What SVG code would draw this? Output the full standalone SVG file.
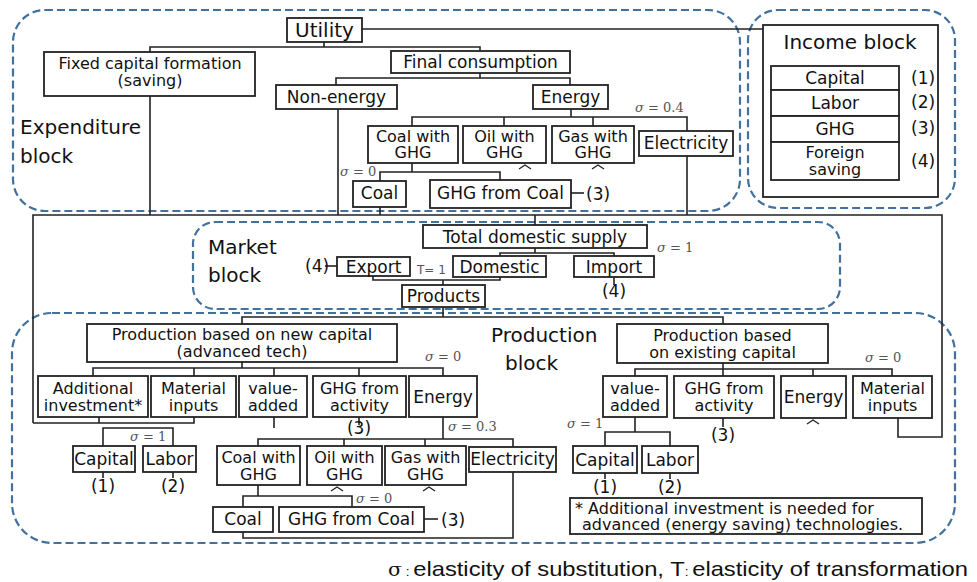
<svg xmlns="http://www.w3.org/2000/svg" width="977" height="582" viewBox="0 0 977 582">
<defs>
<style>
.box{fill:#fff;stroke:#222;stroke-width:1.8}
.t{font-family:"DejaVu Sans",sans-serif;font-size:17px;fill:#111;text-anchor:middle}
.t2{font-family:"DejaVu Sans",sans-serif;font-size:16px;fill:#111;text-anchor:middle}
.l{font-family:"DejaVu Sans",sans-serif;font-size:20px;fill:#111}
.n{font-family:"DejaVu Sans",sans-serif;font-size:17px;fill:#111}
.fn{font-family:"DejaVu Sans",sans-serif;font-size:16px;fill:#111}
.blk{fill:none;stroke:#41719c;stroke-width:2.2;stroke-dasharray:8 4}
.ln{fill:none;stroke:#222;stroke-width:1.6}
.sig{font-family:"DejaVu Serif",serif;font-size:13px;fill:#555}
.car{fill:none;stroke:#222;stroke-width:1.3}
</style>
</defs>
<rect width="977" height="582" fill="#fff"/>

<!-- blocks -->
<g id="blocks">
<rect class="blk" x="13" y="10" width="727" height="201" rx="32"/>
<rect class="blk" x="748" y="10" width="207" height="198" rx="30"/>
<rect class="blk" x="193" y="222" width="647" height="87" rx="22"/>
<rect class="blk" x="12" y="313" width="943" height="230" rx="40"/>
<text class="l" x="20" y="134">Expenditure</text>
<text class="l" x="20" y="163">block</text>
<text class="l" x="208" y="254">Market</text>
<text class="l" x="208" y="282">block</text>
<text class="l" x="491" y="342">Production</text>
<text class="l" x="505" y="370">block</text>
</g>

<!-- connectors -->
<g id="connectors" class="ln">
<path d="M362,29 H763"/>
<path d="M324,42 V47 M150,52 V47 H480 V51"/>
<path d="M480,73 V78 M336,85 V78 H570 V85"/>
<path d="M150,96 V215 M338,109 V215"/>
<path d="M571,109 V117 M412,126 V117 H687 V131 M504,117 V126 M593,117 V126"/>
<path d="M412,163 V172 M380,181 V172 H500 V180"/>
<path d="M380,207 V215 M687,156 V215"/>
<path d="M571,193 H584"/>
<path d="M33,423 V215 H942 V437 H898 V418"/>
<path d="M33,423 H194 V417 M99,417 V423"/>
<path d="M535,215 V225"/>
<path d="M535,248 V253 M500,256 V253 H614 V256"/>
<path d="M325,266 H337"/>
<path d="M614,277 V285"/>
<path d="M373,276 V280 H500 V277 M443,280 V285"/>
<path d="M443,307 V317 M242,324 V317 H723 V324"/>
<path d="M242,362 V368 M93,376 V368 H443 V376 M194,368 V376 M274,368 V376 M359,368 V376"/>
<path d="M274,417 V428 M103,446 V428 H173 V446"/>
<path d="M103,472 V478 M173,472 V478"/>
<path d="M359,417 V425"/>
<path d="M443,416 V439 M258,446 V439 H513 V447 M344,439 V446 M425,439 V446"/>
<path d="M258,485 V496 M243,507 V496 H352 V507"/>
<path d="M243,532 V538 H513 V472"/>
<path d="M424,519 H438"/>
<path d="M723,363 V369 M635,376 V369 H892 V376 M723,369 V376 M813,369 V376"/>
<path d="M635,417 V432 M605,446 V432 H670 V446"/>
<path d="M605,473 V479 M670,473 V479"/>
<path d="M723,418 V427"/>
<path d="M899,78 H905 M899,102 H905 M899,128 H905 M899,161 H905"/>
<path class="car" d="M519,169 L525,165 L531,169 M592,169 L598,165 L604,169 M331,491 L337,487 L343,491 M423,491 L429,487 L435,491 M807,424 L813,420 L819,424"/>
</g>

<!-- top -->
<g id="utility"><rect class="box" x="287" y="18" width="75" height="24"/><text class="t" x="324.5" y="37" style="font-size:20px">Utility</text></g>
<g id="fixed-capital"><rect class="box" x="44" y="52" width="211" height="44"/><text class="t2" x="150" y="69">Fixed capital formation</text><text class="t2" x="150" y="86">(saving)</text></g>
<g id="final-consumption"><rect class="box" x="391" y="51" width="179" height="22"/><text class="t" x="480.5" y="68">Final consumption</text></g>
<g id="non-energy"><rect class="box" x="276" y="85" width="121" height="24"/><text class="t" x="336.5" y="103">Non-energy</text></g>
<g id="energy-top"><rect class="box" x="533" y="85" width="75" height="24"/><text class="t" x="570.5" y="103">Energy</text></g>
<text class="sig" x="635" y="112"><tspan font-style="italic">σ</tspan> = 0.4</text>
<g id="coal-ghg-top"><rect class="box" x="368" y="126" width="90" height="37"/><text class="t2" x="413" y="142">Coal with</text><text class="t2" x="413" y="158">GHG</text></g>
<g id="oil-ghg-top"><rect class="box" x="463" y="126" width="83" height="37"/><text class="t2" x="504.5" y="142">Oil with</text><text class="t2" x="504.5" y="158">GHG</text></g>
<g id="gas-ghg-top"><rect class="box" x="552" y="126" width="82" height="37"/><text class="t2" x="593" y="142">Gas with</text><text class="t2" x="593" y="158">GHG</text></g>
<g id="electricity-top"><rect class="box" x="639" y="131" width="94" height="25"/><text class="t" x="686" y="149">Electricity</text></g>
<text class="sig" x="340" y="176"><tspan font-style="italic">σ</tspan> = 0</text>
<g id="coal-top"><rect class="box" x="353" y="181" width="53" height="26"/><text class="t" x="379.5" y="199">Coal</text></g>
<g id="ghg-coal-top"><rect class="box" x="430" y="180" width="141" height="28"/><text class="t" x="500.5" y="199">GHG from Coal</text></g>
<text class="n" x="586" y="200">(3)</text>

<!-- income -->
<g id="income-block">
<rect class="box" x="763" y="25" width="175" height="172"/>
<text class="t" x="850" y="49" style="font-size:20px">Income block</text>
</g>
<g id="inc-capital"><rect class="box" x="771" y="66" width="128" height="24"/><text class="t" x="835" y="84">Capital</text></g>
<g id="inc-labor"><rect class="box" x="771" y="90" width="128" height="26"/><text class="t" x="835" y="109">Labor</text></g>
<g id="inc-ghg"><rect class="box" x="771" y="116" width="128" height="26"/><text class="t" x="835" y="135">GHG</text></g>
<g id="inc-foreign"><rect class="box" x="771" y="142" width="128" height="38"/><text class="t2" x="835" y="158">Foreign</text><text class="t2" x="835" y="175">saving</text></g>
<text class="n" x="911" y="84">(1)</text>
<text class="n" x="911" y="108">(2)</text>
<text class="n" x="911" y="134">(3)</text>
<text class="n" x="911" y="167">(4)</text>

<!-- market -->
<g id="total-domestic-supply"><rect class="box" x="423" y="225" width="224" height="23"/><text class="t" x="535" y="243">Total domestic supply</text></g>
<text class="sig" x="657" y="252"><tspan font-style="italic">σ</tspan> = 1</text>
<g id="export"><rect class="box" x="337" y="257" width="73" height="19"/><text class="t" x="373.5" y="273">Export</text></g>
<text class="n" x="305" y="272">(4)</text>
<text x="417" y="274" style="font-family:'DejaVu Sans',sans-serif;font-size:12px;fill:#555">T= 1</text>
<g id="domestic"><rect class="box" x="453" y="256" width="93" height="21"/><text class="t" x="499.5" y="273">Domestic</text></g>
<g id="import"><rect class="box" x="574" y="256" width="80" height="21"/><text class="t" x="614" y="273">Import</text></g>
<text class="t" x="614" y="297">(4)</text>
<g id="products"><rect class="box" x="402" y="285" width="83" height="22"/><text class="t" x="443.5" y="302">Products</text></g>

<!-- production new -->
<g id="prod-new"><rect class="box" x="87" y="324" width="310" height="38"/><text class="t2" x="242" y="340">Production based on new capital</text><text class="t2" x="242" y="357">(advanced tech)</text></g>
<text class="sig" x="425" y="361"><tspan font-style="italic">σ</tspan> = 0</text>
<g id="additional-investment"><rect class="box" x="38" y="376" width="110" height="41"/><text class="t2" x="93" y="394">Additional</text><text class="t2" x="93" y="411">investment*</text></g>
<g id="material-new"><rect class="box" x="151" y="376" width="85" height="41"/><text class="t2" x="193.5" y="394">Material</text><text class="t2" x="193.5" y="411">inputs</text></g>
<g id="value-added-new"><rect class="box" x="239" y="376" width="68" height="41"/><text class="t2" x="273" y="394">value-</text><text class="t2" x="273" y="411">added</text></g>
<g id="ghg-activity-new"><rect class="box" x="313" y="376" width="93" height="41"/><text class="t2" x="359.5" y="394">GHG from</text><text class="t2" x="359.5" y="411">activity</text></g>
<g id="energy-new"><rect class="box" x="409" y="376" width="68" height="41"/><text class="t" x="443" y="403">Energy</text></g>
<text class="t" x="359" y="434">(3)</text>
<text class="sig" x="130" y="441"><tspan font-style="italic">σ</tspan> = 1</text>
<g id="capital-new"><rect class="box" x="73" y="446" width="62" height="26"/><text class="t" x="104" y="465">Capital</text></g>
<g id="labor-new"><rect class="box" x="143" y="446" width="53" height="26"/><text class="t" x="169.5" y="465">Labor</text></g>
<text class="t" x="103" y="492">(1)</text>
<text class="t" x="173" y="492">(2)</text>
<text class="sig" x="448" y="431"><tspan font-style="italic">σ</tspan> = 0.3</text>
<g id="coal-ghg-new"><rect class="box" x="217" y="446" width="83" height="39"/><text class="t2" x="258.5" y="463">Coal with</text><text class="t2" x="258.5" y="480">GHG</text></g>
<g id="oil-ghg-new"><rect class="box" x="307" y="446" width="75" height="39"/><text class="t2" x="344.5" y="463">Oil with</text><text class="t2" x="344.5" y="480">GHG</text></g>
<g id="gas-ghg-new"><rect class="box" x="385" y="446" width="81" height="39"/><text class="t2" x="425.5" y="463">Gas with</text><text class="t2" x="425.5" y="480">GHG</text></g>
<g id="electricity-new"><rect class="box" x="469" y="447" width="87" height="25"/><text class="t" x="512.5" y="465">Electricity</text></g>
<text class="sig" x="356" y="503"><tspan font-style="italic">σ</tspan> = 0</text>
<g id="coal-new"><rect class="box" x="213" y="507" width="60" height="25"/><text class="t" x="243" y="525">Coal</text></g>
<g id="ghg-coal-new"><rect class="box" x="279" y="507" width="145" height="25"/><text class="t" x="351.5" y="525">GHG from Coal</text></g>
<text class="n" x="441" y="526">(3)</text>

<!-- production existing -->
<g id="prod-existing"><rect class="box" x="617" y="324" width="211" height="39"/><text class="t2" x="722.5" y="341">Production based</text><text class="t2" x="722.5" y="358">on existing capital</text></g>
<text class="sig" x="865" y="362"><tspan font-style="italic">σ</tspan> = 0</text>
<g id="value-added-ex"><rect class="box" x="603" y="376" width="64" height="41"/><text class="t2" x="635" y="394">value-</text><text class="t2" x="635" y="411">added</text></g>
<g id="ghg-activity-ex"><rect class="box" x="674" y="376" width="100" height="42"/><text class="t2" x="724" y="394">GHG from</text><text class="t2" x="724" y="411">activity</text></g>
<g id="energy-ex"><rect class="box" x="781" y="376" width="65" height="42"/><text class="t" x="813.5" y="403">Energy</text></g>
<g id="material-ex"><rect class="box" x="853" y="376" width="79" height="42"/><text class="t2" x="892.5" y="394">Material</text><text class="t2" x="892.5" y="411">inputs</text></g>
<text class="t" x="723" y="441">(3)</text>
<text class="sig" x="567" y="428"><tspan font-style="italic">σ</tspan> = 1</text>
<g id="capital-ex"><rect class="box" x="573" y="446" width="64" height="27"/><text class="t" x="605" y="466">Capital</text></g>
<g id="labor-ex"><rect class="box" x="642" y="446" width="56" height="27"/><text class="t" x="670" y="466">Labor</text></g>
<text class="t" x="605" y="493">(1)</text>
<text class="t" x="670" y="493">(2)</text>
<g id="footnote"><rect class="box" x="570" y="498" width="352" height="36"/><text class="fn" x="575" y="514">* Additional investment is needed for</text><text class="fn" x="582" y="530">advanced (energy saving) technologies.</text></g>

<!-- legend -->
<text x="388" y="576" textLength="580" lengthAdjust="spacingAndGlyphs" style="font-family:'Liberation Sans',Arial,sans-serif;font-size:21px;fill:#111"><tspan style="font-family:'DejaVu Serif',serif;font-size:18px">σ</tspan><tspan style="font-size:12px"> : </tspan>elasticity of substitution, T<tspan style="font-size:12px">: </tspan>elasticity of transformation</text>
</svg>
